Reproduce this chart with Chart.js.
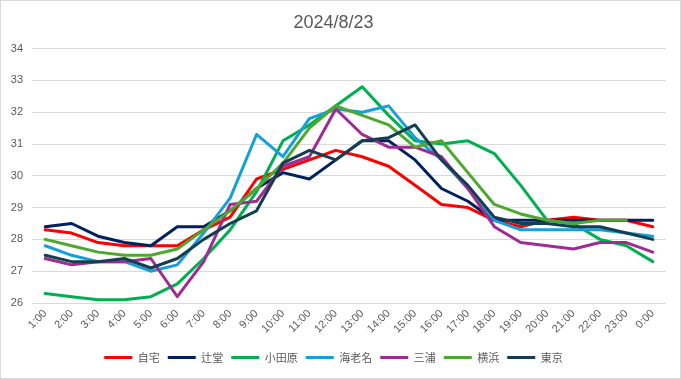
<!DOCTYPE html>
<html lang="ja">

<head>
    <meta charset="UTF-8">
    <title>2024/8/23</title>
    <script src="https://cdn.jsdelivr.net/npm/chart.js"></script>
    <style>
        body { margin: 0; background: #ffffff; }
        #wrap { width: 681px; height: 379px; box-sizing: border-box; border: 1px solid #d9d9d9; }
    </style>
</head>

<body>
    <div id="wrap">
        <canvas id="myChart"></canvas>
    </div>

    <script>
        // horas do dia
        const labels = ['1:00', '2:00', '3:00', '4:00', '5:00', '6:00', '7:00', '8:00', '9:00', '10:00', '11:00', '12:00',
            '13:00', '14:00', '15:00', '16:00', '17:00', '18:00', '19:00', '20:00', '21:00', '22:00', '23:00', '0:00'];

        const jitaku = [28.3, 28.2, 27.9, 27.8, 27.8, 27.8, 28.3, 28.7, 29.9, 30.2, 30.5, 30.8, 30.6, 30.3, 29.7, 29.1, 29.0, 28.6, 28.4, 28.6, 28.7, 28.6, 28.6, 28.4];
        const tsujido = [28.4, 28.5, 28.1, 27.9, 27.8, 28.4, 28.4, 28.9, 29.6, 30.1, 29.9, 30.5, 31.1, 31.1, 30.5, 29.6, 29.2, 28.6, 28.6, 28.6, 28.6, 28.6, 28.6, 28.6];
        const odawara = [26.3, 26.2, 26.1, 26.1, 26.2, 26.6, 27.4, 28.3, 29.5, 31.1, 31.6, 32.2, 32.8, 31.9, 31.1, 31.0, 31.1, 30.7, 29.7, 28.6, 28.5, 28.0, 27.8, 27.3];
        const ebina = [27.8, 27.5, 27.3, 27.3, 27.0, 27.2, 28.2, 29.3, 31.3, 30.6, 31.8, 32.1, 32.0, 32.2, 31.2, 30.5, 29.6, 28.6, 28.3, 28.3, 28.3, 28.3, 28.2, 28.1];
        const miura = [27.4, 27.2, 27.3, 27.3, 27.4, 26.2, 27.3, 29.1, 29.2, 30.3, 30.6, 32.1, 31.3, 30.9, 30.9, 30.6, 29.6, 28.4, 27.9, 27.8, 27.7, 27.9, 27.9, 27.6];
        const yokohama = [28.0, 27.8, 27.6, 27.5, 27.5, 27.7, 28.3, 28.9, 29.6, 30.4, 31.5, 32.2, 31.9, 31.6, 30.9, 31.1, 30.1, 29.1, 28.8, 28.6, 28.5, 28.6, 28.6, null];
        const tokyo = [27.5, 27.3, 27.3, 27.4, 27.1, 27.4, 28.0, 28.5, 28.9, 30.4, 30.8, 30.5, 31.1, 31.2, 31.6, 30.5, 29.7, 28.7, 28.5, 28.5, 28.4, 28.4, 28.2, 28.0];

        const series = [
            { nome: '自宅', dados: jitaku, cor: '#ff0000' },
            { nome: '辻堂', dados: tsujido, cor: '#002060' },
            { nome: '小田原', dados: odawara, cor: '#00b050' },
            { nome: '海老名', dados: ebina, cor: '#14a0db' },
            { nome: '三浦', dados: miura, cor: '#a02b93' },
            { nome: '横浜', dados: yokohama, cor: '#4ea72e' },
            { nome: '東京', dados: tokyo, cor: '#153e50' }
        ];

        const fonte = '"Liberation Sans", "Noto Sans CJK JP", sans-serif';
        const ctx = document.getElementById('myChart');

        new Chart(ctx, {
            type: 'line',
            data: {
                labels: labels,
                datasets: series.map((s, i) => ({
                    label: s.nome,
                    data: s.dados,
                    borderColor: s.cor,
                    backgroundColor: s.cor,
                    borderWidth: 3,
                    pointRadius: 0,
                    tension: 0,
                    borderJoinStyle: 'round',
                    borderCapStyle: 'round',
                    order: -i // a ultima serie fica por cima, como no Excel
                }))
            },
            options: {
                responsive: true,
                maintainAspectRatio: false,
                animation: false,
                layout: { padding: { left: 0, right: 14, top: 0, bottom: 5 } },
                plugins: {
                    title: {
                        display: true,
                        text: '2024/8/23',
                        color: '#595959',
                        font: { family: fonte, size: 18, weight: 'normal' },
                        padding: { top: 11, bottom: 15 }
                    },
                    legend: {
                        position: 'bottom',
                        labels: {
                            color: '#595959',
                            font: { family: '"Noto Sans CJK JP", sans-serif', size: 11 },
                            boxWidth: 28,
                            boxHeight: 3,
                            padding: 8,
                            sort: (a, b) => a.datasetIndex - b.datasetIndex,
                            // so a linha fina, sem borda na caixinha
                            generateLabels: (chart) => Chart.defaults.plugins.legend.labels.generateLabels(chart)
                                .map(item => Object.assign(item, { lineWidth: 0 }))
                        }
                    },
                    tooltip: { enabled: false }
                },
                scales: {
                    x: {
                        offset: true,
                        grid: { display: false, drawTicks: false },
                        border: { display: false },
                        ticks: {
                            color: '#595959',
                            font: { family: fonte, size: 11 },
                            maxRotation: 45,
                            minRotation: 45,
                            autoSkip: false,
                            padding: 4
                        },
                        afterFit: (scale) => { scale.height = 41; }
                    },
                    y: {
                        min: 26,
                        max: 34,
                        grid: { color: '#d9d9d9', drawTicks: false },
                        border: { display: false },
                        ticks: {
                            stepSize: 1,
                            color: '#595959',
                            font: { family: fonte, size: 11 },
                            padding: 9
                        },
                        afterFit: (scale) => { scale.width = 31; }
                    }
                }
            }
        });
    </script>
</body>

</html>
